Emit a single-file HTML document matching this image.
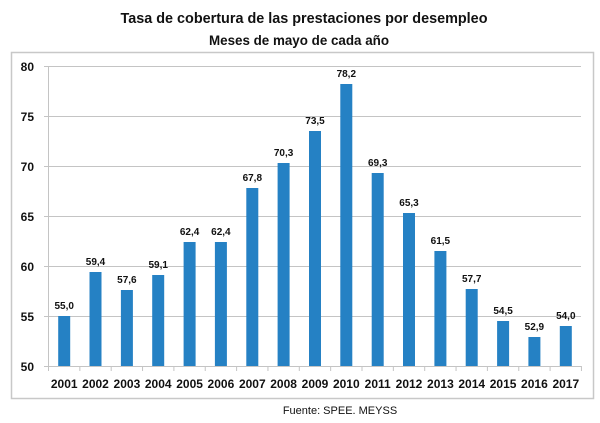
<!DOCTYPE html>
<html><head><meta charset="utf-8"><style>body{margin:0;background:#fff}svg{display:block}text{font-family:"Liberation Sans",sans-serif;font-weight:bold;fill:#111}</style></head>
<body>
<svg width="600" height="423" viewBox="0 0 600 423">
<text x="304" y="23" font-size="15" text-anchor="middle" textLength="367" lengthAdjust="spacingAndGlyphs">Tasa de cobertura de las prestaciones por desempleo</text>
<text x="299" y="45" font-size="14" text-anchor="middle" textLength="180" lengthAdjust="spacingAndGlyphs">Meses de mayo de cada año</text>
<rect x="11.5" y="52.5" width="582" height="346" fill="none" stroke="#c8c8c8" stroke-width="1.5"/>
<g stroke="#c4c4c4" stroke-width="1">
<line x1="44" y1="66.5" x2="581" y2="66.5"/>
<line x1="44" y1="116.5" x2="581" y2="116.5"/>
<line x1="44" y1="166.5" x2="581" y2="166.5"/>
<line x1="44" y1="216.5" x2="581" y2="216.5"/>
<line x1="44" y1="266.5" x2="581" y2="266.5"/>
<line x1="44" y1="316.5" x2="581" y2="316.5"/>
<line x1="44" y1="366.5" x2="581" y2="366.5"/>
<line x1="48.5" y1="66" x2="48.5" y2="366"/>
<line x1="48.5" y1="366" x2="48.5" y2="371"/><line x1="79.85" y1="366" x2="79.85" y2="371"/><line x1="111.2" y1="366" x2="111.2" y2="371"/><line x1="142.55" y1="366" x2="142.55" y2="371"/><line x1="173.9" y1="366" x2="173.9" y2="371"/><line x1="205.25" y1="366" x2="205.25" y2="371"/><line x1="236.6" y1="366" x2="236.6" y2="371"/><line x1="267.95" y1="366" x2="267.95" y2="371"/><line x1="299.3" y1="366" x2="299.3" y2="371"/><line x1="330.65" y1="366" x2="330.65" y2="371"/><line x1="362" y1="366" x2="362" y2="371"/><line x1="393.35" y1="366" x2="393.35" y2="371"/><line x1="424.7" y1="366" x2="424.7" y2="371"/><line x1="456.05" y1="366" x2="456.05" y2="371"/><line x1="487.4" y1="366" x2="487.4" y2="371"/><line x1="518.75" y1="366" x2="518.75" y2="371"/><line x1="550.1" y1="366" x2="550.1" y2="371"/><line x1="581.45" y1="366" x2="581.45" y2="371"/>
</g>
<g font-size="12" text-anchor="end">
<text x="34" y="71">80</text><text x="34" y="121">75</text><text x="34" y="171">70</text><text x="34" y="221">65</text><text x="34" y="271">60</text><text x="34" y="321">55</text><text x="34" y="371">50</text>
</g>
<g fill="#2581c4">
<rect x="58.2" y="316" width="12" height="50"/>
<rect x="89.5" y="272" width="12" height="94"/>
<rect x="120.9" y="290" width="12" height="76"/>
<rect x="152.2" y="275" width="12" height="91"/>
<rect x="183.6" y="242" width="12" height="124"/>
<rect x="214.9" y="242" width="12" height="124"/>
<rect x="246.3" y="188" width="12" height="178"/>
<rect x="277.6" y="163" width="12" height="203"/>
<rect x="309" y="131" width="12" height="235"/>
<rect x="340.3" y="84" width="12" height="282"/>
<rect x="371.7" y="173" width="12" height="193"/>
<rect x="403" y="213" width="12" height="153"/>
<rect x="434.4" y="251" width="12" height="115"/>
<rect x="465.7" y="289" width="12" height="77"/>
<rect x="497.1" y="321" width="12" height="45"/>
<rect x="528.4" y="337" width="12" height="29"/>
<rect x="559.8" y="326" width="12" height="40"/>
</g>
<g font-size="10" text-anchor="middle">
<text x="64.2" y="309">55,0</text>
<text x="95.5" y="265">59,4</text>
<text x="126.9" y="283">57,6</text>
<text x="158.2" y="268">59,1</text>
<text x="189.6" y="235">62,4</text>
<text x="220.9" y="235">62,4</text>
<text x="252.3" y="181">67,8</text>
<text x="283.6" y="156">70,3</text>
<text x="315" y="124">73,5</text>
<text x="346.3" y="77">78,2</text>
<text x="377.7" y="166">69,3</text>
<text x="409" y="206">65,3</text>
<text x="440.4" y="244">61,5</text>
<text x="471.7" y="282">57,7</text>
<text x="503.1" y="314">54,5</text>
<text x="534.4" y="330">52,9</text>
<text x="565.8" y="319">54,0</text>
</g>
<g font-size="12" text-anchor="middle">
<text x="64.2" y="388">2001</text><text x="95.5" y="388">2002</text><text x="126.9" y="388">2003</text><text x="158.2" y="388">2004</text><text x="189.6" y="388">2005</text><text x="220.9" y="388">2006</text><text x="252.3" y="388">2007</text><text x="283.6" y="388">2008</text><text x="315" y="388">2009</text><text x="346.3" y="388">2010</text><text x="377.7" y="388">2011</text><text x="409" y="388">2012</text><text x="440.4" y="388">2013</text><text x="471.7" y="388">2014</text><text x="503.1" y="388">2015</text><text x="534.4" y="388">2016</text><text x="565.8" y="388">2017</text>
</g>
<text x="340" y="414" font-size="11" text-anchor="middle" style="font-weight:normal">Fuente: SPEE. MEYSS</text>
</svg>
</body></html>
